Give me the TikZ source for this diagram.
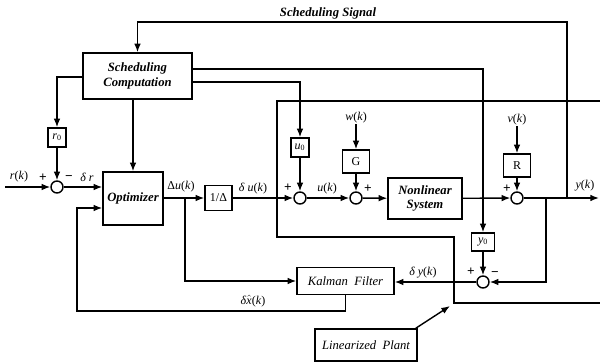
\documentclass[tikz,border=0pt]{standalone}
\usepackage{fontspec}
\setmainfont{Liberation Serif}
\usetikzlibrary{arrows.meta}
\newcommand\ik[1]{\textit{#1}(\textit{k})}
\begin{document}
\begin{tikzpicture}[x=0.75pt,y=-0.75pt,
  line width=1.05pt,
  arr/.style={-{Latex[length=6.5pt,width=5pt]}},
  blk/.style={draw,inner sep=0pt,align=center,font=\fontsize{9.5}{11}\selectfont\bfseries\itshape},
  iblk/.style={draw,inner sep=0pt,align=center,font=\fontsize{9.5}{11}\selectfont\itshape},
  smallblk/.style={draw,inner sep=0pt,font=\fontsize{9}{10}\selectfont},
  sumc/.style={draw,circle,inner sep=0pt,minimum size=9pt},
  lbl/.style={inner sep=0pt,font=\fontsize{9}{10}\selectfont},
  sgn/.style={inner sep=0pt,font=\fontsize{10}{10}\selectfont\bfseries}]
\useasboundingbox (0,0) rectangle (600,363);

% blocks
\node[blk,minimum width=81.75pt,minimum height=34.5pt] (sc) at (137.5,76) {Scheduling\\Computation};
\node[smallblk,minimum width=13.5pt,minimum height=14.25pt] (r0) at (57,137.5) {\textit{r}\textsubscript{0}};
\node[sumc] (s1) at (57,187) {};
\node[blk,minimum width=45pt,minimum height=39.75pt] (opt) at (133,198.5) {Optimizer};
\node[smallblk,minimum width=20.25pt,minimum height=18.75pt] (inv) at (218.5,198) {1/Δ};
\node[sumc] (s2) at (300,198) {};
\node[smallblk,minimum width=13.5pt,minimum height=14.25pt] (u0) at (300,147.5) {\textit{u}\textsubscript{0}};
\node[sumc] (s3) at (356,198) {};
\node[smallblk,minimum width=20.25pt,minimum height=17.25pt] (G) at (356,161.5) {G};
\node[lbl] (w) at (356,118) {\ik{w}};
\node[blk,minimum width=55.5pt,minimum height=30.75pt] (nl) at (425,198.5) {Nonlinear\\System};
\node[sumc] (s4) at (517,198) {};
\node[smallblk,minimum width=20.25pt,minimum height=17.25pt] (R) at (517,165.5) {R};
\node[lbl] (v) at (517,120) {\ik{v}};
\node[smallblk,minimum width=17.25pt,minimum height=13.5pt] (y0) at (483,242) {\textit{y}\textsubscript{0}};
\node[sumc] (s5) at (483,282) {};
\node[iblk,minimum width=72.75pt,minimum height=20.25pt] (kf) at (345.5,281) {Kalman\ \ Filter};
\node[iblk,minimum width=76.5pt,minimum height=24pt] (lp) at (366,345) {Linearized\ \ Plant};
\node[inner sep=0pt,font=\fontsize{9.5}{11}\selectfont\bfseries\itshape] (ss) at (328,13) {Scheduling Signal};

% coordinates
\coordinate (rin) at (5,187);
\coordinate (yout) at (599,198);
\coordinate (b1) at (546,198);
\coordinate (b2) at (567,198);
\coordinate (tc) at (567,22);
\coordinate (b3) at (185,198);
\coordinate (fb1) at (345.5,311);
\coordinate (fb2) at (77,311);
\coordinate (lpt) at (450,306);

% connectors
\draw[arr] (sc.east |- 0,69) -| (y0.north);
\draw[arr] (sc.east |- 0,82) -| (u0.north);
\draw[arr] (sc.south -| opt.north) -- (opt.north);
\draw[arr] (sc.west |- 0,77) -| (r0.north);
\draw[arr] (r0) -- (s1);
\draw[arr] (rin) -- (s1);
\draw[arr] (s1) -- (opt.west |- s1);
\draw[arr] (opt.east |- inv) -- (inv.west);
\draw[arr] (inv) -- (s2);
\draw[arr] (u0) -- (s2);
\draw[arr] (s2) -- (s3);
\draw[arr] (w) -- (G);
\draw[arr] (G) -- (s3);
\draw[arr] (s3) -- (nl);
\draw[arr] (nl) -- (s4);
\draw[arr] (v) -- (R);
\draw[arr] (R) -- (s4);
\draw[arr] (s4) -- (yout);
\draw[arr] (b1) |- (s5);
\draw[arr] (b2) -- (tc) -| (sc.north);
\draw[arr] (y0) -- (s5);
\draw[arr] (s5) -- (kf.east |- s5);
\draw[arr] (b3) |- (kf.west);
\draw[arr] (kf.south) -- (fb1) -- (fb2) |- (opt.west |- 0,208);
\draw[arr] ([xshift=-1.5pt]lp.north east) -- (lpt);

% linearized plant outline
\draw (600,101) -- (277,101) -- (277,237) -- (454,237) -- (454,303) -- (600,303);

% labels
\node[lbl] at (19,177) {\ik{r}};
\node[sgn] at (43,178) {+};
\node[sgn] at (69,178) {−};
\node[lbl] at (87,177) {\textit{δ r}};
\node[lbl] at (181,187) {Δ\textit{u}(\textit{k})};
\node[lbl] at (253,189) {\textit{δ u}(\textit{k})};
\node[sgn] at (288,188) {+};
\node[lbl] at (327,189) {\ik{u}};
\node[sgn] at (368,189) {+};
\node[sgn] at (507,189) {+};
\node[lbl] at (585,186) {\ik{y}};
\node[sgn] at (471,272) {+};
\node[sgn] at (495,274) {−};
\node[lbl] at (423,273) {\textit{δ y}(\textit{k})};
\node[lbl] at (253,301) {\textit{δ}$\hat{\mbox{\textit{x}}}$(\textit{k})};
\end{tikzpicture}
\end{document}
